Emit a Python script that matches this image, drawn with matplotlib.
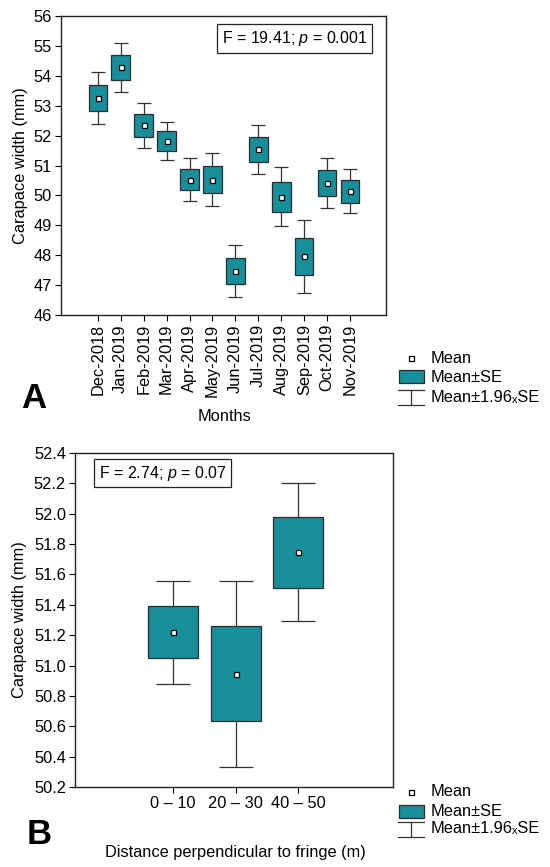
import numpy as np
import matplotlib
matplotlib.use("Agg")
import matplotlib.pyplot as plt
from matplotlib.lines import Line2D
from matplotlib.patches import Rectangle

plt.rcParams["font.family"] = ["Liberation Sans", "DejaVu Sans"]
plt.rcParams["mathtext.fontset"] = "custom"
plt.rcParams["mathtext.it"] = "Liberation Sans:italic"
plt.rcParams["mathtext.rm"] = "Liberation Sans"

# panel A: monthly means and standard errors
months = ["Dec-2018", "Jan-2019", "Feb-2019", "Mar-2019", "Apr-2019", "May-2019",
          "Jun-2019", "Jul-2019", "Aug-2019", "Sep-2019", "Oct-2019", "Nov-2019"]
month_mean = [53.25, 54.28, 52.34, 51.82, 50.53, 50.53, 47.48, 51.54, 49.96, 47.96, 50.42, 50.14]
month_se = [0.44, 0.42, 0.38, 0.33, 0.36, 0.45, 0.44, 0.42, 0.50, 0.62, 0.43, 0.38]

# panel B: distance classes
distances = ["0 \u2013 10", "20 \u2013 30", "40 \u2013 50"]
dist_mean = [51.22, 50.945, 51.745]
dist_se = [0.173, 0.313, 0.232]

TEAL = "#178f9b"
EDGE = "#2b2b2b"
W, H = 550, 867
FS = 11.8


def fx(px):
    return px / W


def fy(py):
    return 1 - py / H


def box_plot(ax, labels, mean, se, capsize):
    x = np.arange(len(labels))
    mean = np.array(mean)
    se = np.array(se)
    ax.errorbar(x, mean, yerr=1.96 * se, fmt="none", ecolor="#333333",
                elinewidth=0.9, capsize=capsize, capthick=0.9, zorder=1)
    ax.bar(x, 2 * se, bottom=mean - se, width=0.8, color=TEAL,
           edgecolor=EDGE, linewidth=0.9, zorder=2)
    ax.plot(x, mean, ls="none", marker="s", ms=3.6, mfc="white",
            mec="black", mew=0.9, zorder=3)
    ax.set_xticks(x)
    ax.set_xticklabels(labels)
    ax.tick_params(direction="out", length=4, width=0.8, labelsize=FS, colors="black", pad=2.5)
    for s in ax.spines.values():
        s.set_linewidth(1.0)
        s.set_color("#222222")


def draw_legend(fig, xm, y_mean, y_se, y_ci):
    # manual legend keys in figure pixels
    tr = fig.transFigure
    fig.add_artist(Line2D([fx(xm)], [fy(y_mean)], transform=tr, ls="none", marker="s",
                          ms=3.6, mfc="white", mec="black", mew=0.9))
    fig.add_artist(Rectangle((fx(xm - 12), fy(y_se + 6.5)), fx(25), 13 / H, transform=tr,
                             facecolor=TEAL, edgecolor=EDGE, linewidth=0.9))
    top, bot = y_ci - 7, y_ci + 8
    for yy in (top, bot):
        fig.add_artist(Line2D([fx(xm - 13), fx(xm + 13)], [fy(yy), fy(yy)], transform=tr,
                              color="#333333", lw=0.9))
    fig.add_artist(Line2D([fx(xm), fx(xm)], [fy(top), fy(bot)], transform=tr,
                          color="#333333", lw=0.9))
    tx = fx(xm + 20)
    fig.text(tx, fy(y_mean), "Mean", fontsize=FS, va="center")
    fig.text(tx, fy(y_se), "Mean\u00b1SE", fontsize=FS, va="center")
    fig.text(tx, fy(y_ci), "Mean\u00b11.96\u2093SE", fontsize=FS, va="center")


fig = plt.figure(figsize=(5.5, 8.67), dpi=100)

# ---- panel A ----
axA = fig.add_axes([fx(61), fy(315), fx(325), 299 / H])
box_plot(axA, months, month_mean, month_se, capsize=5)
axA.set_xlim(-1.6, 12.56)
axA.set_ylim(46, 56)
axA.set_yticks(range(46, 57))
plt.setp(axA.get_xticklabels(), rotation=90)
axA.set_ylabel("Carapace width (mm)", fontsize=FS)
axA.yaxis.set_label_coords(-0.10, 0.5)
axA.set_xlabel("Months", fontsize=FS, va="center")
axA.xaxis.set_label_coords(0.503, -0.340)
axA.text(0.718, 0.924, "F = 19.41; $p$ = 0.001", transform=axA.transAxes, fontsize=11.5,
         ha="center", va="center",
         bbox=dict(boxstyle="square,pad=0.3", fc="white", ec="#222222", lw=0.9))
fig.text(fx(34), fy(399), "A", fontsize=25, fontweight="bold", ha="center", va="center")
draw_legend(fig, 411, 358, 377, 397)

# ---- panel B ----
axB = fig.add_axes([fx(75), fy(787), fx(318), 334 / H])
box_plot(axB, distances, dist_mean, dist_se, capsize=12.5)
axB.set_xlim(-1.57, 3.52)
axB.set_ylim(50.2, 52.4)
axB.set_yticks(np.arange(50.2, 52.41, 0.2))
axB.yaxis.set_major_formatter(matplotlib.ticker.FormatStrFormatter("%.1f"))
axB.set_ylabel("Carapace width (mm)", fontsize=FS)
axB.yaxis.set_label_coords(-0.151, 0.5)
axB.set_xlabel("Distance perpendicular to fringe (m)", fontsize=FS, va="center")
axB.xaxis.set_label_coords(0.505, -0.195)
axB.text(0.276, 0.94, "F = 2.74; $p$ = 0.07", transform=axB.transAxes, fontsize=11.5,
         ha="center", va="center",
         bbox=dict(boxstyle="square,pad=0.3", fc="white", ec="#222222", lw=0.9))
fig.text(fx(39), fy(835), "B", fontsize=25, fontweight="bold", ha="center", va="center")
draw_legend(fig, 411, 792, 811, 829)

fig.savefig("out.png", dpi=100)
